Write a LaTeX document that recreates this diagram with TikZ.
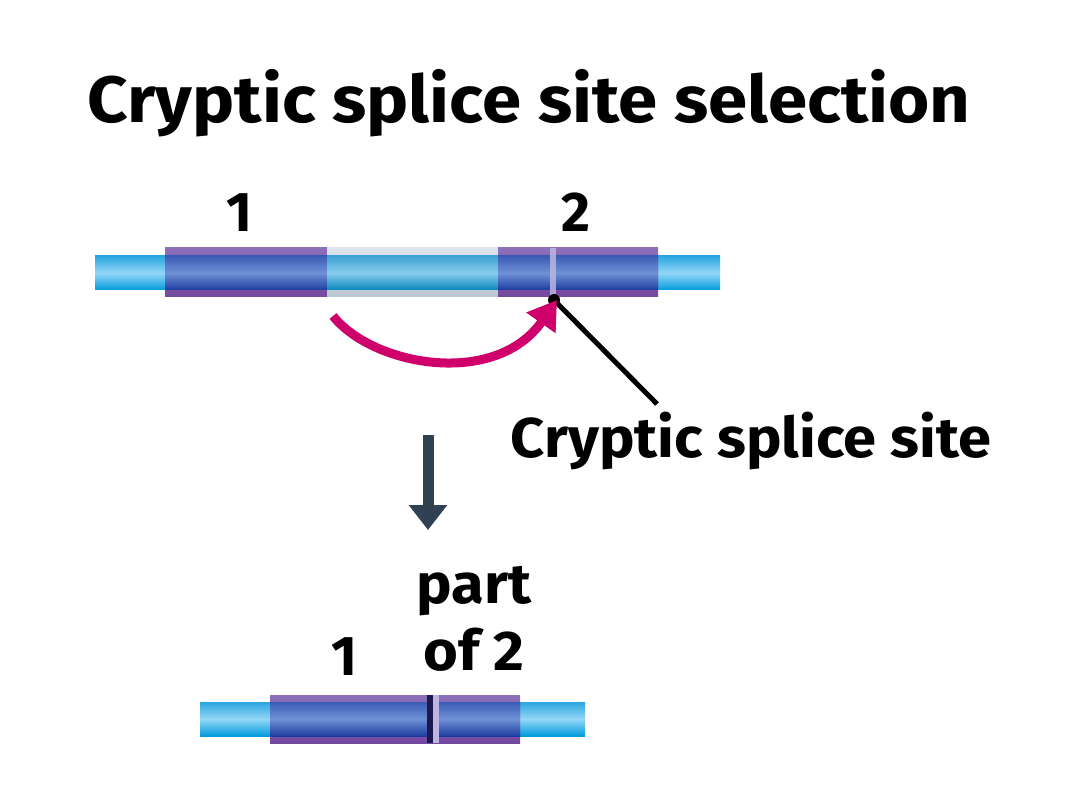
\documentclass[tikz,border=0pt]{standalone}
\usepackage{fontspec}
\usepackage{graphicx}
\setmainfont[Ligatures=NoCommon]{Fira Sans}
\usetikzlibrary{arrows.meta}
\definecolor{tubeTop}{HTML}{2AA6E0}
\definecolor{tubeMid}{HTML}{94D6F7}
\definecolor{tubeBot}{HTML}{009CDC}
\definecolor{exTop}{HTML}{8C70B8}
\definecolor{exBot}{HTML}{7448A0}
\definecolor{exbTop}{HTML}{3B5CB4}
\definecolor{exbMid}{HTML}{7090D6}
\definecolor{exbBot}{HTML}{1C3DA0}
\definecolor{inTop}{HTML}{DDE4EB}
\definecolor{inBot}{HTML}{BBC7D1}
\definecolor{intTop}{HTML}{3CA2D4}
\definecolor{intMid}{HTML}{88CCEC}
\definecolor{intBot}{HTML}{0886BC}
\definecolor{lav}{HTML}{BDB5DF}
\definecolor{darkline}{HTML}{1C1850}
\definecolor{magenta}{HTML}{CF006C}
\definecolor{slate}{HTML}{2F4153}
\newcommand{\wideL}[1]{\scalebox{1.065}[1]{#1}}
\newcommand{\wideT}[1]{\scalebox{1.08}[1]{#1}}
\tikzset{
  lbl/.style={font=\bfseries\fontsize{56}{60}\selectfont, inner sep=0pt, anchor=base},
  tube/.style={top color=tubeTop, bottom color=tubeBot, middle color=tubeMid},
  exonpurple/.style={top color=exTop, bottom color=exBot},
  exonblue/.style={top color=exbTop, bottom color=exbBot, middle color=exbMid},
  intronbox/.style={top color=inTop, bottom color=inBot},
  introntube/.style={top color=intTop, bottom color=intBot, middle color=intMid},
}
\begin{document}
\begin{tikzpicture}[x=1pt,y=-1pt]
\useasboundingbox[fill=white] (0,0) rectangle (1080,810);

% title
\node[anchor=base, inner sep=0pt, font=\bfseries\fontsize{65.5}{70}\selectfont] (title) at (529,123) {\wideT{Cryptic splice site selection}};

% top pre-mRNA
\shade[tube] (95,256) rectangle (720,290);
\shade[exonpurple] (165,248) rectangle (327,297);
\shade[exonblue] (165,256) rectangle (327,290);
\shade[intronbox] (327,248) rectangle (498,297);
\shade[introntube] (327,256) rectangle (498,290);
\shade[exonpurple] (498,248) rectangle (658,297);
\shade[exonblue] (498,256) rectangle (658,290);
\fill[lav, opacity=0.85] (550,248) rectangle (556,297);

\node[lbl] (n1) at (239,232) {1};
\node[lbl] (n2) at (576,232) {2};

% cryptic site pointer
\coordinate (site) at (554,300);
\coordinate (lblend) at (657,404);
\draw[line width=5pt] (site) -- (lblend);
\fill (site) circle (6);
\node[lbl] (cryptic) at (751,457) {\wideL{Cryptic splice site}};

% magenta arrow
\coordinate (arcstart) at (333,316);
\coordinate (arctip) at (557,300);
\draw[magenta, line width=9pt, -{Triangle[width=34pt,length=28pt]}]
  (arcstart) .. controls (373,366) and (495,388) .. (arctip);

% down arrow
\coordinate (dtop) at (428,435);
\coordinate (dtip) at (428,530);
\draw[slate, line width=11pt, -{Triangle[width=37pt,length=25pt]}] (dtop) -- (dtip);

% bottom mRNA
\node[lbl] (part) at (474,603) {\wideL{part}};
\node[lbl] (of2) at (474,670) {\wideL{of 2}};
\node[lbl] (b1) at (344,675) {1};

\shade[tube] (200,702) rectangle (585,736);
\shade[exonpurple] (270,695) rectangle (520,743);
\shade[exonblue] (270,702) rectangle (520,736);
\fill[darkline] (427,695) rectangle (433,743);
\fill[lav] (433,695) rectangle (439,743);
\end{tikzpicture}
\end{document}
